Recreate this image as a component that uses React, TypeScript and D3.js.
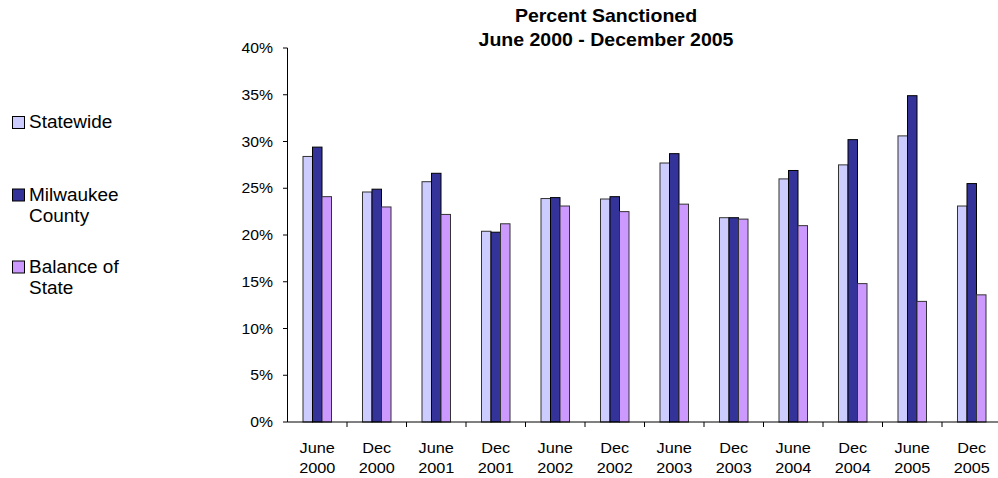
import * as d3 from "d3";

const periods = [
  ["June", "2000"], ["Dec", "2000"], ["June", "2001"], ["Dec", "2001"],
  ["June", "2002"], ["Dec", "2002"], ["June", "2003"], ["Dec", "2003"],
  ["June", "2004"], ["Dec", "2004"], ["June", "2005"], ["Dec", "2005"],
];

const seriesNames = ["Statewide", "Milwaukee County", "Balance of State"];

const statewide = [28.4, 24.6, 25.7, 20.4, 23.9, 23.85, 27.7, 21.85, 26.0, 27.5, 30.6, 23.1];
const milwaukee = [29.4, 24.9, 26.6, 20.3, 24.0, 24.1, 28.7, 21.85, 26.9, 30.2, 34.9, 25.5];
const balance = [24.1, 23.0, 22.2, 21.2, 23.1, 22.5, 23.3, 21.7, 21.0, 14.8, 12.9, 13.6];

const yTicks = [0, 5, 10, 15, 20, 25, 30, 35, 40];

const colors = ["#CCCCFF", "#333399", "#CC99FF"];

const WIDTH = 998;
const HEIGHT = 478;
const FONT = "'Liberation Sans', Arial, sans-serif";
const STRETCH = 1.085; // source image is a bit wider than tall

// text drawn with a slight horizontal stretch, like the original
const Label = ({ x, y, anchor = "start", size, bold = false, children }: any) => (
  <text
    transform={`translate(${x},${y}) scale(${STRETCH},1)`}
    textAnchor={anchor}
    fontSize={size}
    fontWeight={bold ? "bold" : "normal"}
  >
    {children}
  </text>
);

export default function App() {
  const series = [statewide, milwaukee, balance];
  const keys = periods.map((p) => p.join(" "));

  const x = d3.scaleBand<string>().domain(keys).range([287.5, 1001.5]);
  const inner = d3
    .scaleBand<number>()
    .domain([0, 1, 2])
    .range([0, x.bandwidth()])
    .paddingInner(0)
    .paddingOuter(1.63);
  const y = d3.scaleLinear().domain([0, 40]).range([422, 48]);

  const legendRows = [
    { lines: ["Statewide"], y: 128 },
    { lines: ["Milwaukee", "County"], y: 200.5 },
    { lines: ["Balance of", "State"], y: 272.5 },
  ];

  return (
    <svg
      width={WIDTH}
      height={HEIGHT}
      style={{ position: "absolute", left: 0, top: 0, background: "#fff" }}
      fontFamily={FONT}
    >
      {/* title */}
      <Label x={606} y={22} anchor="middle" size={18} bold>
        Percent Sanctioned
      </Label>
      <Label x={606} y={46} anchor="middle" size={18} bold>
        June 2000 - December 2005
      </Label>

      {/* bars */}
      {keys.map((k, i) => (
        <g key={k} transform={`translate(${x(k)},0)`}>
          {series.map((s, j) => (
            <rect
              key={j}
              x={inner(j)}
              y={y(s[i])}
              width={inner.bandwidth()}
              height={y(0) - y(s[i])}
              fill={colors[j]}
              stroke={j === 1 ? "#000" : "#333"}
              strokeWidth={1}
            />
          ))}
        </g>
      ))}

      {/* y axis */}
      <line x1={287.5} x2={287.5} y1={48} y2={422} stroke="#000" />
      {yTicks.map((t) => (
        <g key={t}>
          <line x1={283} x2={287.5} y1={y(t)} y2={y(t)} stroke="#000" />
          <Label x={273} y={y(t) + 5.2} anchor="end" size={14.5}>
            {t}%
          </Label>
        </g>
      ))}

      {/* x axis */}
      <line x1={287.5} x2={1001.5} y1={422} y2={422} stroke="#000" />
      {keys.map((k, i) => {
        const left = x(k) ?? 0;
        const mid = left + x.bandwidth() / 2;
        return (
          <g key={k}>
            <line
              x1={left + x.bandwidth()}
              x2={left + x.bandwidth()}
              y1={422}
              y2={427}
              stroke="#000"
            />
            <Label x={mid} y={452.5} anchor="middle" size={15}>
              {periods[i][0]}
            </Label>
            <Label x={mid} y={473} anchor="middle" size={15}>
              {periods[i][1]}
            </Label>
          </g>
        );
      })}

      {/* legend */}
      {legendRows.map((r, j) => (
        <g key={seriesNames[j]}>
          <rect
            x={12.5}
            y={r.y - 11.5}
            width={12}
            height={12}
            fill={colors[j]}
            stroke="#000"
          />
          {r.lines.map((line, li) => (
            <Label key={li} x={29} y={r.y + li * 21.5} size={17.5}>
              {line}
            </Label>
          ))}
        </g>
      ))}
    </svg>
  );
}
